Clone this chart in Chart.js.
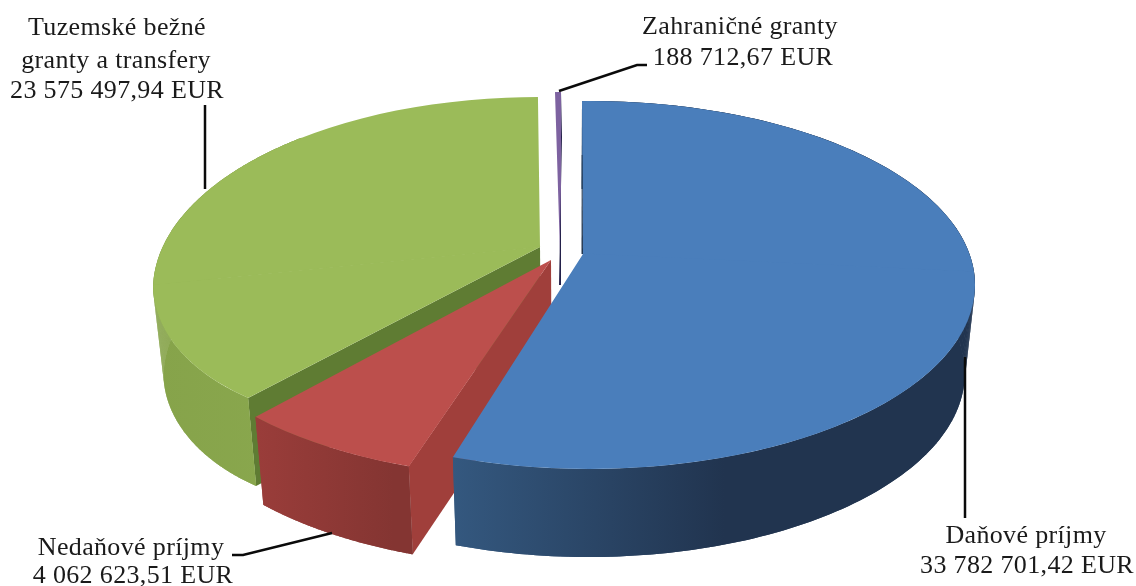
<!DOCTYPE html>
<html lang="sk">
<head>
<meta charset="utf-8">
<title>Príjmy</title>
<style>html,body{margin:0;padding:0;background:#fff}canvas{display:block}</style>
<script src="https://cdn.jsdelivr.net/npm/chart.js@4"></script>
</head>
<body>
<canvas id="c" width="1136" height="586"></canvas>
<script>
const categories = ['Daňové príjmy', 'Nedaňové príjmy', 'Tuzemské bežné granty a transfery', 'Zahraničné granty'];
const values = [33782701.42, 4062623.51, 23575497.94, 188712.67];
const valueLabels = ['33 782 701,42 EUR', '4 062 623,51 EUR', '23 575 497,94 EUR', '188 712,67 EUR'];
const topColors = ['#4a7ebb', '#bc4f4c', '#9bbb59', '#7d62a0'];

// Perspective look of the pie. Each slice: its tip, the linear map of the pie's
// circle (X axis, upper Y axis, lower Y axis) and the rim outline it is trimmed to.
const OVERSIZE = 1.3;
const E_BLUE = [589,285,386,184], E_RED = [545,295,388,183], E_GREEN_UP = [538,290,385,193],
      E_GREEN_LOW = [372,285,219,137], E_PURPLE = [560,285,385,193];
const projections = [
  {apex:[583,254], X:[392,18],  up:[1,153],     down:[-13.4,218.4]},
  {apex:[551,260], X:[436,13],  up:[-12,220],   down:[-12,220]},
  {apex:[540,247], X:[387,-38], up:[-5.4,150.7],down:[-49.7,167.3]},
  {apex:[561,285], X:[312,0],   up:[0,193],     down:[0,193]}
];
const rimArcs = [
  [[E_BLUE,[582,101],[453,457]]],
  [[E_RED,[409,466],[255,417]]],
  [[E_GREEN_LOW,[248,398],[153,285]],[E_GREEN_UP,[153,285],[300,137]]],
  []
];
const wallColors = [['#34587f','#21344f',0.52],['#9a3d3a','#843532',0.9],['#86a34a','#8aa84e',1],null];
const faceColors = [null,'#a03f3b','#5f7c33',null];
const DEPTH = 88, SHRINK = 0.025, SHRINK_X = 570;
const drawOrder = [2, 3, 1, 0];

const labelLines = [
  [[categories[0], 1026, 543], [valueLabels[0], 1027, 573]],
  [[categories[1], 131, 555], [valueLabels[1], 133, 583]],
  [['Tuzemské bežné', 117, 35], ['granty a transfery', 116, 68], [valueLabels[2], 117, 98]],
  [[categories[3], 740, 34], [valueLabels[3], 743, 65]]
];
const leaders = [
  [[965,357],[965,518]],
  [[232,555],[243,555],[332,533]],
  [[205,105],[205,189]],
  [[647,65],[637,65],[559,91]]
];

function arcPoints(arc) {
  const [E, a, b] = arc;
  const t = q => Math.atan2((q[1]-E[1])/E[3], (q[0]-E[0])/E[2]);
  const t0 = t(a); let t1 = t(b);
  while (t1 < t0) t1 += 2*Math.PI;
  const pts = [];
  for (let k = 0; k <= 160; k++) {
    const s = t0 + (t1-t0)*k/160;
    pts.push([E[0] + E[2]*Math.cos(s), E[1] + E[3]*Math.sin(s)]);
  }
  return pts;
}
function drop(pt) {
  return [pt[0] + SHRINK*(SHRINK_X - pt[0]), pt[1] + DEPTH];
}
function poly(ctx, pts, fill) {
  ctx.beginPath();
  pts.forEach((q, i) => i ? ctx.lineTo(q[0], q[1]) : ctx.moveTo(q[0], q[1]));
  ctx.closePath();
  ctx.fillStyle = fill;
  ctx.fill();
}
function rimClip(ctx, i) {
  ctx.beginPath();
  const el = (E, a, b) => ctx.ellipse(E[0], E[1], E[2], E[3], 0, a, b);
  if (i === 0) el(E_BLUE, 0, 2*Math.PI);
  else if (i === 1) el(E_RED, 0, 2*Math.PI);
  else if (i === 3) el(E_PURPLE, 0, 2*Math.PI);
  else {
    const c = Math.asin(3/193);
    el(E_GREEN_UP, Math.PI + c, 2*Math.PI - c);
    ctx.closePath();
    el(E_GREEN_LOW, 0, Math.PI);
    ctx.closePath();
  }
  ctx.clip();
}
function drawSlice(ctx, el, i) {
  const p = projections[i], R = el.outerRadius / OVERSIZE;
  const pts = rimArcs[i].flatMap(arcPoints);
  if (pts.length) {
    const xs = pts.map(q => q[0]);
    const g = ctx.createLinearGradient(Math.min(...xs), 0, Math.max(...xs), 0);
    g.addColorStop(0, wallColors[i][0]);
    g.addColorStop(wallColors[i][2], wallColors[i][1]);
    g.addColorStop(1, wallColors[i][1]);
    if (faceColors[i]) {
      poly(ctx, [p.apex, pts[0], drop(pts[0]), drop(p.apex)], faceColors[i]);
    }
    poly(ctx, pts.concat(pts.map(drop).reverse()), g);
    for (let k = 0; k + 1 < pts.length; k++) {
      poly(ctx, [pts[k], pts[k+1], drop(pts[k+1]), drop(pts[k])], g);
    }
  }
  ctx.save();
  rimClip(ctx, i);
  [[p.up, -el.outerRadius-1, el.outerRadius+1.5], [p.down, -0.5, el.outerRadius+1.5]].forEach(([Y, y0, h]) => {
    ctx.save();
    ctx.transform(p.X[0]/R, p.X[1]/R, Y[0]/R, Y[1]/R, p.apex[0], p.apex[1]);
    ctx.beginPath();
    ctx.rect(-el.outerRadius-1, y0, 2*el.outerRadius+2, h);
    ctx.clip();
    ctx.translate(-el.x, -el.y);
    el.draw(ctx);
    ctx.restore();
  });
  ctx.restore();
  if (i === 3) {
    poly(ctx, [p.apex, [561,92], [562,137], [p.apex[0]-2, p.apex[1]]], '#23204a');
  }
  if (i === 0) {
    poly(ctx, [p.apex, [582.5,155], [581.7,155], [p.apex[0]-1.5, p.apex[1]]], '#1f3550');
  }
}
const pie3d = {
  id: 'pie3d',
  beforeDatasetDraw(chart, args) {
    const els = chart.getDatasetMeta(args.index).data;
    drawOrder.forEach(i => drawSlice(chart.ctx, els[i], i));
    return false;
  },
  afterDatasetsDraw(chart) {
    const ctx = chart.ctx;
    ctx.save();
    ctx.strokeStyle = '#0a0a0a';
    ctx.lineWidth = 2.5;
    leaders.forEach(l => {
      ctx.beginPath();
      l.forEach((q, i) => i ? ctx.lineTo(q[0], q[1]) : ctx.moveTo(q[0], q[1]));
      ctx.stroke();
    });
    ctx.fillStyle = '#1a1a1a';
    ctx.font = '26px "Liberation Serif"';
    ctx.letterSpacing = '0.35px';
    ctx.textAlign = 'center';
    ctx.textBaseline = 'alphabetic';
    labelLines.forEach(g => g.forEach(t => ctx.fillText(t[0], t[1], t[2])));
    ctx.restore();
  }
};
new Chart(document.getElementById('c'), {
  type: 'pie',
  data: { labels: categories, datasets: [{ data: values, backgroundColor: topColors, borderWidth: 0 }] },
  options: {
    responsive: false,
    animation: false,
    events: [],
    plugins: { legend: { display: false }, tooltip: { enabled: false } }
  },
  plugins: [pie3d]
});
</script>
</body>
</html>
